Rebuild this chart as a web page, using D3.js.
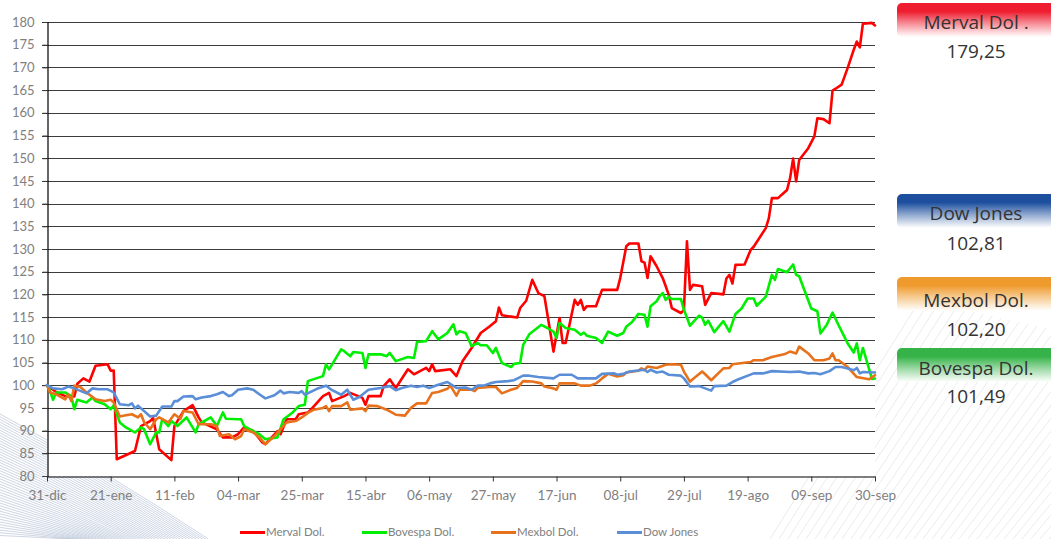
<!DOCTYPE html>
<html>
<head>
<meta charset="utf-8">
<script src="https://cdn.jsdelivr.net/npm/d3@7"></script>
<style>
  html, body { margin: 0; padding: 0; background: #fff; }
  svg { display: block; }
</style>
</head>
<body>
<div id="chart"></div>
<script>
////////// Data (day offset from 31-dic, index value) //////////
const startDate = new Date(2022, 11, 31);
const totalDays = 273;
const tickStep = 21;
const monthNames = ['ene', 'feb', 'mar', 'abr', 'may', 'jun', 'jul', 'ago', 'sep', 'oct', 'nov', 'dic'];
const yTicks = d3.range(80, 181, 5);

const merval = [[0,100],[3,98.5],[6,97.6],[9,97.5],[10,100.3],[12,101.5],[14,100.8],[16,104.3],[20,104.6],[21,103.2],[22,103.2],[23,83.7],[29,85.5],[31,91],[34,92.1],[35,92.8],[37,85.9],[41,83.5],[42,91],[45,94.3],[48,95.6],[50,92.9],[51,91.8],[56,90.3],[58,88.5],[61,88.5],[63,89.2],[65,90.7],[68,89.9],[71,87.4],[72,87],[76,89.9],[77,89.2],[79,92.5],[82,92.5],[83,93.6],[86,94],[87,94.6],[91,97.6],[93,98.3],[94,96.5],[98,97.6],[100,98.3],[104,97.2],[105,95.7],[106,97.6],[110,97.6],[111,99.8],[113,101.3],[115,99.4],[119,103.5],[121,102.4],[125,103.8],[126,103.1],[127,104.6],[128,103.1],[133,103.5],[135,102],[137,105.3],[140,108.2],[143,111.5],[146,113],[148,114.1],[149,117.1],[150,115.4],[153,115.1],[155,114.9],[156,117],[158,118.6],[160,123.2],[162,120.3],[164,119.6],[167,107.4],[169,114.8],[170,109.3],[171,109.3],[174,118.8],[175,117.7],[176,118.8],[177,116.6],[178,117.4],[181,117.4],[183,121],[188,121],[189,123.6],[191,130.6],[192,131.2],[195,131.2],[196,127.3],[197,127],[198,123.6],[199,128.4],[201,126.2],[203,123.6],[204,121.8],[205,119.9],[206,117],[209,115.9],[210,116.5],[211,131.7],[212,121],[213,122.1],[216,121.8],[217,117.7],[219,120.3],[223,120],[224,123.5],[225,124.3],[226,122.4],[227,126.5],[230,126.6],[232,129.8],[233,130.5],[237,134.6],[238,136.8],[239,141.2],[241,141.2],[244,143],[245,145.6],[246,149.9],[247,144.9],[248,149.6],[251,152.2],[253,154.8],[254,158.8],[256,158.6],[258,157.7],[259,164.9],[260,165.3],[262,166.2],[264,169.9],[266,173.9],[267,175.7],[268,174.4],[269,179.6],[272,179.8],[273,179.25]];

const bovespa = [[0,100],[1,98.75],[2,96.8],[3,98.4],[6,98.4],[8,97.6],[9,94.7],[10,96.8],[13,96.2],[15,97.3],[16,96.5],[19,95.8],[21,94.7],[22,95.6],[24,91.8],[26,90.7],[29,89.6],[31,90.7],[32,90.3],[34,87],[36,89.6],[37,89.6],[38,92.5],[40,91],[41,92.1],[43,91],[46,92.9],[49,89.6],[50,91.4],[54,92.9],[56,91],[58,94],[59,92.6],[63,92.5],[64,92.5],[65,91],[68,89.9],[70,89.2],[72,88.1],[76,88.5],[78,92.5],[81,94],[83,95.4],[85,95.7],[86,100.9],[91,102],[92,104.6],[93,103.5],[97,107.9],[98,107.5],[100,106.4],[101,107.3],[104,107.1],[105,103.8],[106,106.8],[110,106.8],[112,106.4],[113,107.1],[115,105.3],[119,106.2],[121,106],[122,109.5],[125,109.7],[127,111.9],[129,110.1],[132,111.5],[134,113.4],[135,111.2],[136,111.9],[138,111.5],[140,108.6],[142,109.3],[143,108.8],[145,108.8],[147,107.1],[148,108.2],[150,104.9],[153,104],[154,104.7],[156,104.9],[157,108.9],[159,111.2],[163,113.3],[165,112.6],[167,111.8],[168,110.4],[169,113.7],[171,112.6],[174,112.2],[176,111.1],[177,111.6],[178,110.9],[181,110.4],[183,109.3],[185,111.8],[188,110.9],[190,111.5],[191,112.9],[193,114],[195,115.7],[197,115.5],[198,112.9],[199,117.4],[201,118.5],[202,119.6],[203,120.3],[204,118.8],[205,119.5],[206,119],[209,119],[210,116.6],[212,113.1],[215,115.3],[216,114.9],[217,113.3],[218,114.2],[220,111.7],[223,114.1],[225,111.8],[227,115.7],[229,116.9],[231,119.1],[233,119.1],[234,117.5],[237,119.5],[239,124.3],[240,123.2],[241,125.6],[244,124.9],[246,126.6],[247,124.3],[248,124],[252,116.9],[254,116.3],[255,111.4],[257,113.2],[259,116],[261,113.2],[264,109.2],[266,107.2],[267,109.2],[268,105.5],[269,108.2],[272,101.4],[273,101.49]];

const mexbol = [[0,100],[1,98.4],[3,98],[6,96.9],[7,98],[8,96.5],[9,99.9],[11,99.6],[13,98.4],[16,96.9],[19,96.5],[21,96.8],[22,96.2],[24,93.1],[26,93.4],[28,93.6],[30,92.9],[31,93.6],[32,91.9],[34,90.3],[36,92.5],[37,92.9],[40,91.8],[42,93.6],[44,92.6],[45,94.3],[48,94],[50,91.4],[54,91.4],[56,91],[57,88.8],[60,89.2],[62,88.1],[64,88.8],[65,90.3],[68,89.6],[70,88.5],[72,87],[75,88.8],[77,90.3],[79,91.8],[82,92.1],[84,92.9],[86,93.9],[88,94.6],[91,95],[92,95.4],[93,94.3],[94,95.4],[97,95.4],[99,96.2],[100,94.6],[104,94.9],[105,94.3],[106,95.5],[109,95.4],[112,94.6],[115,93.5],[118,93.3],[120,95],[122,96],[125,96],[127,98.3],[129,98.5],[132,99.2],[133,99.9],[135,97.7],[136,99],[140,99],[141,98.7],[142,99.4],[146,99.6],[148,99.6],[150,98.2],[153,99],[155,99.4],[157,100.9],[160,100.8],[163,100.4],[164,99.7],[167,99.3],[168,99],[169,100.4],[174,100.4],[176,99.9],[179,99.9],[181,100.4],[183,101.5],[185,102.5],[188,101.9],[190,102.2],[191,102.8],[195,103.2],[196,103.7],[197,103.3],[198,104.1],[201,103.8],[204,104.5],[206,104.6],[209,104.5],[210,103],[212,100.8],[214,101.9],[216,103],[217,102.4],[219,101.1],[223,103.7],[225,103.8],[226,104.6],[232,105.1],[233,105.5],[236,105.5],[239,106.2],[243,106.8],[245,107.4],[247,107],[248,108.5],[251,107],[253,105.5],[256,105.5],[258,105.9],[259,107],[260,105.5],[261,105.5],[264,104],[267,101.8],[271,101.3],[273,102.2]];

const dowJones = [[0,100],[2,99.3],[5,99.1],[7,99.7],[9,99.3],[13,98.2],[15,99.3],[17,99.1],[20,99.1],[22,98.4],[24,95.8],[27,95.6],[28,96],[29,94.9],[30,95.5],[34,93.1],[36,93.3],[38,95.3],[41,95.3],[42,96.5],[43,96.5],[45,97.5],[48,97.6],[49,96.9],[51,97.3],[54,97.6],[56,98],[58,98.5],[60,97.6],[61,97.8],[63,99],[66,99.3],[68,99],[70,98],[72,97.1],[75,97.8],[77,98.8],[78,98.2],[80,98.5],[83,98.3],[84,98.7],[85,97.9],[89,99.2],[92,99.9],[94,98.9],[97,97.9],[99,99],[101,96.8],[103,97.4],[106,99],[110,99.4],[113,99.8],[115,98.9],[117,99.4],[120,99.9],[122,99.6],[124,99.9],[126,99.4],[129,100.1],[132,100.7],[135,99.4],[138,99.5],[140,99],[142,99.9],[144,99.9],[146,100.4],[148,100.7],[152,100.9],[154,101.1],[157,102.1],[159,102.1],[162,101.8],[167,101.5],[169,102.3],[173,102.3],[175,101.5],[181,101.5],[183,102.5],[187,102.6],[188,102.3],[190,102.5],[192,103],[197,103.4],[198,102.9],[199,103.4],[201,102.8],[203,103],[205,102.3],[209,102.1],[210,101.5],[212,99.7],[215,99.8],[217,99.3],[219,98.8],[220,99.8],[224,99.9],[226,100.7],[228,101.3],[233,102.6],[236,102.6],[239,103.1],[245,102.9],[248,103],[251,102.6],[253,102.7],[255,102.4],[258,103.1],[260,104],[262,104],[264,103.7],[266,103.3],[267,103.8],[268,102.6],[269,102.9],[273,102.81]];

const seriesNames = ['Merval Dol.', 'Bovespa Dol.', 'Mexbol Dol.', 'Dow Jones'];
const seriesValues = [merval, bovespa, mexbol, dowJones];

////////// Layout and styles //////////
const width = 1051, height = 539;
const plot = { left: 47, right: 875, top: 22, bottom: 476 };
const lineColors = ['#ff0000', '#00ee00', '#e8711c', '#5a8fd8'];
const axisTextColor = '#808080';
const fontFamily = 'Lato, "Open Sans", sans-serif';

// right hand labels: which series, title text, gradient colour, top of the box
const panels = [
  { series: 0, title: 'Merval Dol .', color: '#ee1d2f', top: 3, titleY: 29, valueY: 58 },
  { series: 3, title: 'Dow Jones', color: '#1d4f9e', top: 194, titleY: 220, valueY: 250 },
  { series: 2, title: 'Mexbol Dol.', color: '#ef9a2c', top: 277, titleY: 307, valueY: 336 },
  { series: 1, title: 'Bovespa Dol.', color: '#35b348', top: 348, titleY: 375, valueY: 403 }
];

const legendItems = [
  { x: 240 }, { x: 362 }, { x: 491 }, { x: 617 }
];

////////// Draw //////////
const svg = d3.select('#chart').append('svg')
  .attr('width', width)
  .attr('height', height);

const defs = svg.append('defs');

// decorative hatch lines, bottom-left
const hatchL = svg.append('g').attr('class', 'hatchLeft')
  .attr('stroke', '#aebcd3').attr('stroke-width', 0.7).attr('fill', 'none').attr('opacity', 0.85);
d3.range(0, 46).forEach(k => {
  const y0 = 414 + k * 2.7;
  const xEnd = (height - y0) / 0.6 + k * 1.4;
  hatchL.append('path')
    .attr('d', `M0,${y0} Q${xEnd * 0.5},${y0 + (height - y0) * 0.45} ${xEnd},${height}`);
});

// decorative hatch lines, bottom-right
const hatchR = svg.append('g').attr('class', 'hatchRight')
  .attr('stroke', '#d9d9d9').attr('stroke-width', 0.6).attr('opacity', 0.8);
d3.range(0, 34).forEach(k => {
  const x0 = 770 + k * 9;
  hatchR.append('line')
    .attr('x1', x0).attr('y1', height)
    .attr('x2', x0 + 150).attr('y2', 300 + k * 2);
});

const x = d3.scaleTime()
  .domain([startDate, d3.timeDay.offset(startDate, totalDays)])
  .range([plot.left, plot.right]);

const y = d3.scaleLinear()
  .domain([80, 180])
  .range([plot.bottom, plot.top]);

const dayToDate = d => d3.timeDay.offset(startDate, d);
const fmtTick = d => d3.timeFormat('%d')(d) + '-' + monthNames[d.getMonth()];

// white plot background so hatching stays outside
svg.append('rect')
  .attr('x', plot.left).attr('y', plot.top)
  .attr('width', plot.right - plot.left).attr('height', plot.bottom - plot.top)
  .attr('fill', '#fff');

// grid lines
svg.append('g').attr('class', 'grid')
  .selectAll('line')
  .data(yTicks.filter(v => v > 80))
  .enter().append('line')
    .attr('x1', plot.left - 5)
    .attr('x2', plot.right)
    .attr('y1', d => Math.round(y(d)) + 0.5)
    .attr('y2', d => Math.round(y(d)) + 0.5)
    .attr('stroke', '#3c3c3c')
    .attr('stroke-width', 1.1);

// y axis
const yAxis = svg.append('g')
  .attr('transform', `translate(${plot.left + 0.5},0)`)
  .call(d3.axisLeft(y).tickValues(yTicks).tickSize(5).tickPadding(8).tickFormat(d3.format('d')));
yAxis.select('.domain').attr('stroke', '#000').attr('stroke-width', 1.2);
yAxis.selectAll('.tick line').attr('stroke', '#3c3c3c');
yAxis.selectAll('text')
  .attr('fill', axisTextColor)
  .style('font', `13px ${fontFamily}`);

// x axis
const xTickDates = d3.range(0, totalDays + 1, tickStep).map(dayToDate);
const xAxis = svg.append('g')
  .attr('transform', `translate(0,${Math.round(plot.bottom) + 0.5})`)
  .call(d3.axisBottom(x).tickValues(xTickDates).tickSize(5).tickSizeOuter(0).tickPadding(9).tickFormat(fmtTick));
xAxis.select('.domain').attr('stroke', '#000').attr('stroke-width', 1.2);
xAxis.selectAll('.tick line').attr('stroke', '#333');
xAxis.selectAll('text')
  .attr('fill', axisTextColor)
  .style('font', `13.5px ${fontFamily}`);

// series lines
const line = d3.line()
  .x(d => x(dayToDate(d[0])))
  .y(d => y(d[1]));

svg.append('g').attr('class', 'series')
  .selectAll('path')
  .data(seriesValues)
  .enter().append('path')
    .attr('d', line)
    .attr('fill', 'none')
    .attr('stroke', (d, i) => lineColors[i])
    .attr('stroke-width', 2.6)
    .attr('stroke-linejoin', 'round')
    .attr('stroke-linecap', 'round');

// legend
const legend = svg.append('g').attr('class', 'legend');
legendItems.forEach((item, i) => {
  legend.append('line')
    .attr('x1', item.x).attr('x2', item.x + 25)
    .attr('y1', 532.5).attr('y2', 532.5)
    .attr('stroke', lineColors[i])
    .attr('stroke-width', 3);
  legend.append('text')
    .attr('x', item.x + 26)
    .attr('y', 535.5)
    .attr('fill', axisTextColor)
    .style('font', `11.5px ${fontFamily}`)
    .text(seriesNames[i]);
});

// right hand value boxes
const fmtValue = v => d3.format('.2f')(v).replace('.', ',');
panels.forEach((p, i) => {
  const gradId = `panelGrad${i}`;
  const grad = defs.append('linearGradient')
    .attr('id', gradId)
    .attr('x1', 0).attr('y1', 0).attr('x2', 0).attr('y2', 1);
  grad.append('stop').attr('offset', '0%').attr('stop-color', p.color);
  grad.append('stop').attr('offset', '25%').attr('stop-color', p.color);
  grad.append('stop').attr('offset', '100%').attr('stop-color', '#fff').attr('stop-opacity', 0.9);

  const g = svg.append('g').attr('class', 'panel');
  g.append('rect')
    .attr('x', 897).attr('y', p.top)
    .attr('width', 170).attr('height', 34)
    .attr('rx', 5)
    .attr('fill', `url(#${gradId})`);

  const series = seriesValues[p.series];
  g.append('text')
    .attr('x', 976).attr('y', p.titleY)
    .attr('text-anchor', 'middle')
    .attr('fill', '#333')
    .style('font', '19px "Open Sans", sans-serif')
    .text(p.title);
  g.append('text')
    .attr('x', 976).attr('y', p.valueY)
    .attr('text-anchor', 'middle')
    .attr('fill', '#333')
    .style('font', '19px "Open Sans", sans-serif')
    .text(fmtValue(series[series.length - 1][1]));
});
</script>
</body>
</html>
